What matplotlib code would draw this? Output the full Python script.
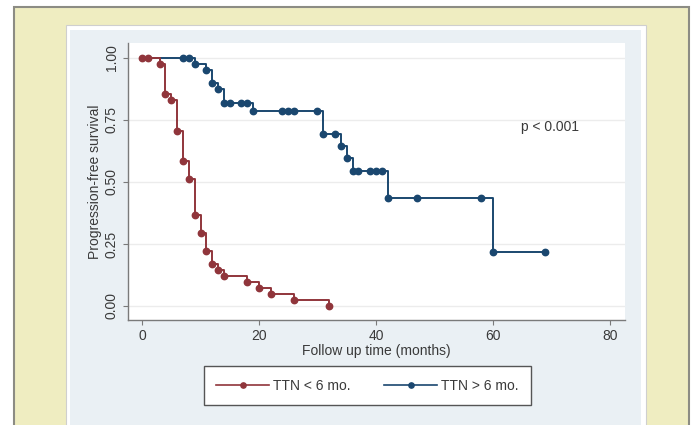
import matplotlib
matplotlib.use("Agg")
import matplotlib.pyplot as plt
from matplotlib.patches import Rectangle
from matplotlib.lines import Line2D

plt.rcParams['font.family'] = ['Liberation Sans', 'DejaVu Sans']

# ---------------------------------------------------------------
# data (time in months, survival)
# ---------------------------------------------------------------
red_time = [0, 1, 3, 4, 5, 6, 7, 8, 9, 10, 11, 12, 13, 14, 18, 20, 22, 26, 32]
red_surv = [1.0, 1.0, 0.976, 0.854, 0.829, 0.707, 0.585, 0.512, 0.366, 0.293,
            0.220, 0.171, 0.146, 0.122, 0.098, 0.073, 0.049, 0.024, 0.0]

blue_time = [7, 8, 9, 11, 12, 13, 14, 15, 17, 18, 19, 24, 25, 26, 30, 31, 33,
             34, 35, 36, 37, 39, 40, 41, 42, 47, 58, 60, 69]
blue_surv = [1.0, 1.0, 0.975, 0.951, 0.90, 0.877, 0.82, 0.82, 0.82, 0.82,
             0.788, 0.788, 0.788, 0.788, 0.788, 0.694, 0.694, 0.645, 0.595,
             0.546, 0.546, 0.546, 0.546, 0.546, 0.437, 0.437, 0.437, 0.219, 0.219]

x_ticks = [0, 20, 40, 60, 80]
y_ticks = [0.0, 0.25, 0.50, 0.75, 1.00]
y_ticklabels = ['0.00', '0.25', '0.50', '0.75', '1.00']

RED = '#90353b'
BLUE = '#1a476f'
TXT = '#3a3a3a'

W, H = 695, 425
fig = plt.figure(figsize=(W / 100, H / 100), dpi=100, facecolor='white')


def px_rect(x0, y0, x1, y1, **kw):
    return Rectangle((x0 / W, 1 - y1 / H), (x1 - x0) / W, (y1 - y0) / H,
                     transform=fig.transFigure, zorder=-5, **kw)


# page-like backgrounds
fig.patches.append(px_rect(14, 7, 689, 440, facecolor='#efedc1',
                           edgecolor='#8c8c84', linewidth=1.5))
fig.patches.append(px_rect(66, 25, 646, 440, facecolor='white',
                           edgecolor='#cfcfcf', linewidth=0.8))
fig.patches.append(px_rect(70, 30, 641, 440, facecolor='#eaf0f4',
                           edgecolor='none'))

ax = fig.add_axes([128 / W, 1 - 320 / H, (625 - 128) / W, (320 - 43) / H])
ax.set_facecolor('white')

# blue first so red sits on top at the start
ax.plot([0] + blue_time, [1.0] + blue_surv, drawstyle='steps-post',
        color=BLUE, lw=1.4, zorder=3)
ax.plot(blue_time, blue_surv, 'o', color=BLUE, ms=4.6, zorder=4)
ax.plot(red_time, red_surv, drawstyle='steps-post', color=RED, lw=1.4, zorder=5)
ax.plot(red_time, red_surv, 'o', color=RED, ms=4.6, zorder=6)

ax.text(64.8, 0.72, 'p < 0.001', fontsize=10, color=TXT, va='center', ha='left')

ax.set_xlim(-2.4, 82.6)
ax.set_ylim(-0.0565, 1.0605)
ax.set_xticks(x_ticks)
ax.set_yticks(y_ticks)
ax.set_yticklabels(y_ticklabels, rotation=90, va='center')
ax.grid(axis='y', color='#ececec', lw=1.0)
ax.set_axisbelow(True)

for s in ['top', 'right']:
    ax.spines[s].set_visible(False)
for s in ['left', 'bottom']:
    ax.spines[s].set_color('#7a7a7a')
    ax.spines[s].set_linewidth(1.0)

ax.tick_params(axis='both', colors='#7a7a7a', labelcolor=TXT, labelsize=10,
               length=3.5, width=0.8)
ax.tick_params(axis='y', pad=3)
ax.tick_params(axis='x', pad=3)

ax.set_xlabel('Follow up time (months)', fontsize=10, color=TXT, labelpad=1)
ax.set_ylabel('Progression-free survival', fontsize=10, color=TXT, labelpad=2)

handles = [Line2D([], [], color=RED, marker='o', ms=3.8, lw=1.2),
           Line2D([], [], color=BLUE, marker='o', ms=3.8, lw=1.2)]
leg = fig.legend(handles, ['TTN < 6 mo.', 'TTN > 6 mo.'], loc='center',
                 bbox_to_anchor=(367.5 / W, 1 - 385.5 / H), ncol=2,
                 fontsize=10, frameon=True, fancybox=False, handlelength=3.8,
                 columnspacing=2.4, handletextpad=0.3, borderpad=0.9,
                 labelcolor=TXT, framealpha=1)
leg.get_frame().set_edgecolor('#555555')
leg.get_frame().set_linewidth(1.0)
leg.get_frame().set_facecolor('white')

fig.savefig('out.png', dpi=100, facecolor=fig.get_facecolor())
